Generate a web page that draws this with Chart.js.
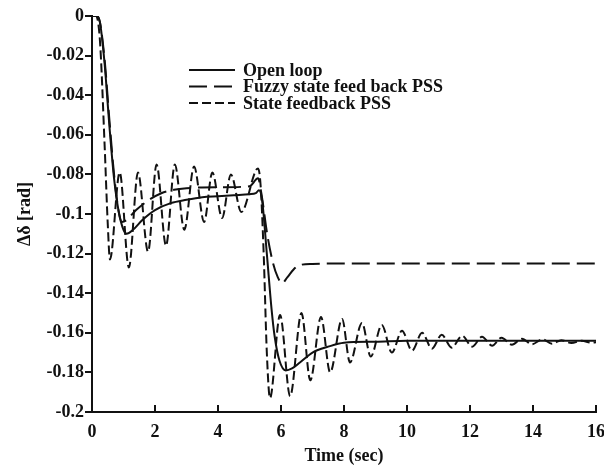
<!DOCTYPE html>
<html>
<head>
<meta charset="utf-8">
<script src="https://cdn.jsdelivr.net/npm/chart.js@4.4.1/dist/chart.umd.min.js"></script>
<style>
  html, body { margin: 0; padding: 0; background: #fff; }
  #wrap { width: 604px; height: 474px; }
</style>
</head>
<body>
<div id="wrap"><canvas id="chart" width="604" height="474"></canvas></div>
<script>
const xTickValues = [0, 2, 4, 6, 8, 10, 12, 14, 16];
const yTickValues = [0, -0.02, -0.04, -0.06, -0.08, -0.1, -0.12, -0.14, -0.16, -0.18, -0.2];
const seriesNames = ["Open loop", "Fuzzy state feed back PSS", "State feedback PSS"];

// open loop (solid)
const openT = [0, 0.15, 0.25, 0.4, 0.55, 0.7, 0.85, 1.0, 1.1, 1.3, 1.6, 2.0, 2.5, 3.0, 3.5, 4.0, 4.5, 5.0,
  5.2, 5.3, 5.4, 5.55, 5.7, 5.8, 5.95, 6.15, 6.35, 6.6, 7.0, 7.5, 8.0, 9.0, 10, 12, 14, 16];
const openV = [0, 0, -0.003, -0.024, -0.055, -0.082, -0.099, -0.108, -0.110, -0.108, -0.103, -0.098, -0.0945, -0.0928, -0.0915, -0.091, -0.0905, -0.090,
  -0.0895, -0.088, -0.093, -0.120, -0.148, -0.162, -0.174, -0.179, -0.178, -0.175, -0.170, -0.167, -0.165, -0.1645, -0.164, -0.164, -0.164, -0.164];

// fuzzy state feedback PSS (long dash)
const fuzzyT = [0, 0.15, 0.25, 0.4, 0.55, 0.7, 0.85, 0.95, 1.1, 1.4, 1.8, 2.2, 2.6, 3.0, 4.0, 5.0,
  5.27, 5.4, 5.56, 5.75, 5.9, 6.03, 6.2, 6.4, 6.6, 7.0, 8.0, 10, 12, 14, 16];
const fuzzyV = [0, 0, -0.003, -0.022, -0.052, -0.080, -0.099, -0.104, -0.103, -0.098, -0.093, -0.0895, -0.0878, -0.087, -0.0865, -0.086,
  -0.082, -0.092, -0.110, -0.125, -0.132, -0.135, -0.132, -0.128, -0.1258, -0.1252, -0.125, -0.125, -0.125, -0.125, -0.125];

// state feedback PSS (short dash)
const stateT = [0, 0.12, 0.25, 0.4, 0.5, 0.57, 0.88, 1.17, 1.46, 1.78, 2.05, 2.35, 2.63, 2.93, 3.24, 3.56, 3.82, 4.13, 4.41, 4.74, 5.27,
  5.35, 5.45, 5.55, 5.65, 5.97, 6.29, 6.65, 6.93, 7.27, 7.56, 7.94, 8.19, 8.57, 8.85, 9.2, 9.52, 9.84, 10.16, 10.48, 10.79,
  11.1, 11.42, 11.75, 12.07, 12.38, 12.7, 13.0, 13.33, 13.65, 13.97, 14.3, 14.6, 14.9, 15.22, 15.55, 15.85, 16];
const stateV = [0, 0, -0.012, -0.065, -0.105, -0.123, -0.079, -0.127, -0.079, -0.119, -0.075, -0.116, -0.075, -0.108, -0.076, -0.104, -0.079, -0.102, -0.080, -0.099, -0.077,
  -0.085, -0.120, -0.170, -0.193, -0.151, -0.192, -0.150, -0.184, -0.152, -0.180, -0.153, -0.175, -0.155, -0.172, -0.156, -0.170, -0.159, -0.169, -0.160, -0.168,
  -0.161, -0.1675, -0.1615, -0.167, -0.162, -0.1665, -0.1625, -0.166, -0.163, -0.1658, -0.1633, -0.1655, -0.1637, -0.1652, -0.164, -0.165, -0.1648];

const ink = "#111";
const fontFamily = "'Liberation Serif', 'Times New Roman', serif";
const labelFont = { family: fontFamily, size: 18, weight: "bold" };

function points(ts, vs) {
  return ts.map((t, i) => ({ x: t, y: vs[i] }));
}

// legend drawn inside the plot like the original figure
const legendPlugin = {
  id: "legendPlugin",
  afterDraw(chart) {
    const ctx = chart.ctx;
    ctx.save();
    chart.data.datasets.forEach((ds, i) => {
      const y = 70 + i * 16.5;
      ctx.strokeStyle = ds.borderColor;
      ctx.lineWidth = 2;
      ctx.setLineDash(ds.borderDash || []);
      ctx.beginPath();
      ctx.moveTo(189, y);
      ctx.lineTo(235, y);
      ctx.stroke();
      ctx.setLineDash([]);
      ctx.fillStyle = ink;
      ctx.font = "bold 18px " + fontFamily;
      ctx.textBaseline = "middle";
      ctx.fillText(ds.label, 243, y + 1);
    });
    ctx.restore();
  }
};

// x-axis ticks point inward
const innerTicks = {
  id: "innerTicks",
  afterDraw(chart) {
    const xs = chart.scales.x;
    const ctx = chart.ctx;
    ctx.save();
    ctx.strokeStyle = ink;
    ctx.lineWidth = 2;
    xs.ticks.forEach(t => {
      const px = xs.getPixelForValue(t.value);
      ctx.beginPath();
      ctx.moveTo(px, xs.top);
      ctx.lineTo(px, xs.top - 7);
      ctx.stroke();
    });
    ctx.restore();
  }
};

const base = { pointRadius: 0, borderWidth: 2, borderColor: ink, fill: false, cubicInterpolationMode: "monotone" };

new Chart(document.getElementById("chart"), {
  type: "line",
  data: {
    datasets: [
      { ...base, label: seriesNames[0], data: points(openT, openV), borderDash: [] },
      { ...base, label: seriesNames[1], data: points(fuzzyT, fuzzyV), borderDash: [18, 7] },
      { ...base, label: seriesNames[2], data: points(stateT, stateV), borderDash: [9, 4] }
    ]
  },
  options: {
    responsive: false,
    animation: false,
    layout: { padding: { top: 16, right: 8, left: 0, bottom: 0 } },
    plugins: { legend: { display: false }, tooltip: { enabled: false } },
    scales: {
      x: {
        type: "linear",
        min: 0, max: 16,
        afterBuildTicks: s => { s.ticks = xTickValues.map(v => ({ value: v })); },
        afterFit: s => { s.height = 62; s.paddingRight = 0; s.paddingLeft = 0; },
        grid: { display: false, drawTicks: false },
        border: { display: true, color: ink, width: 2 },
        ticks: { color: ink, padding: 10, maxRotation: 0, font: labelFont },
        title: { display: true, text: "Time (sec)", color: ink, padding: { top: 0, bottom: 7 }, font: labelFont }
      },
      y: {
        type: "linear",
        min: -0.2, max: 0,
        afterBuildTicks: s => { s.ticks = yTickValues.map(v => ({ value: v })); },
        afterFit: s => { s.width = 92; s.paddingTop = 0; s.paddingBottom = 0; },
        grid: { drawOnChartArea: false, drawTicks: true, tickLength: 7, color: ink, lineWidth: 2 },
        border: { display: true, color: ink, width: 2 },
        ticks: { color: ink, padding: 1, callback: v => String(v), font: labelFont },
        title: { display: true, text: "Δδ [rad]", color: ink, padding: { top: 15, bottom: 0 }, font: labelFont }
      }
    }
  },
  plugins: [legendPlugin, innerTicks]
});
</script>
</body>
</html>
